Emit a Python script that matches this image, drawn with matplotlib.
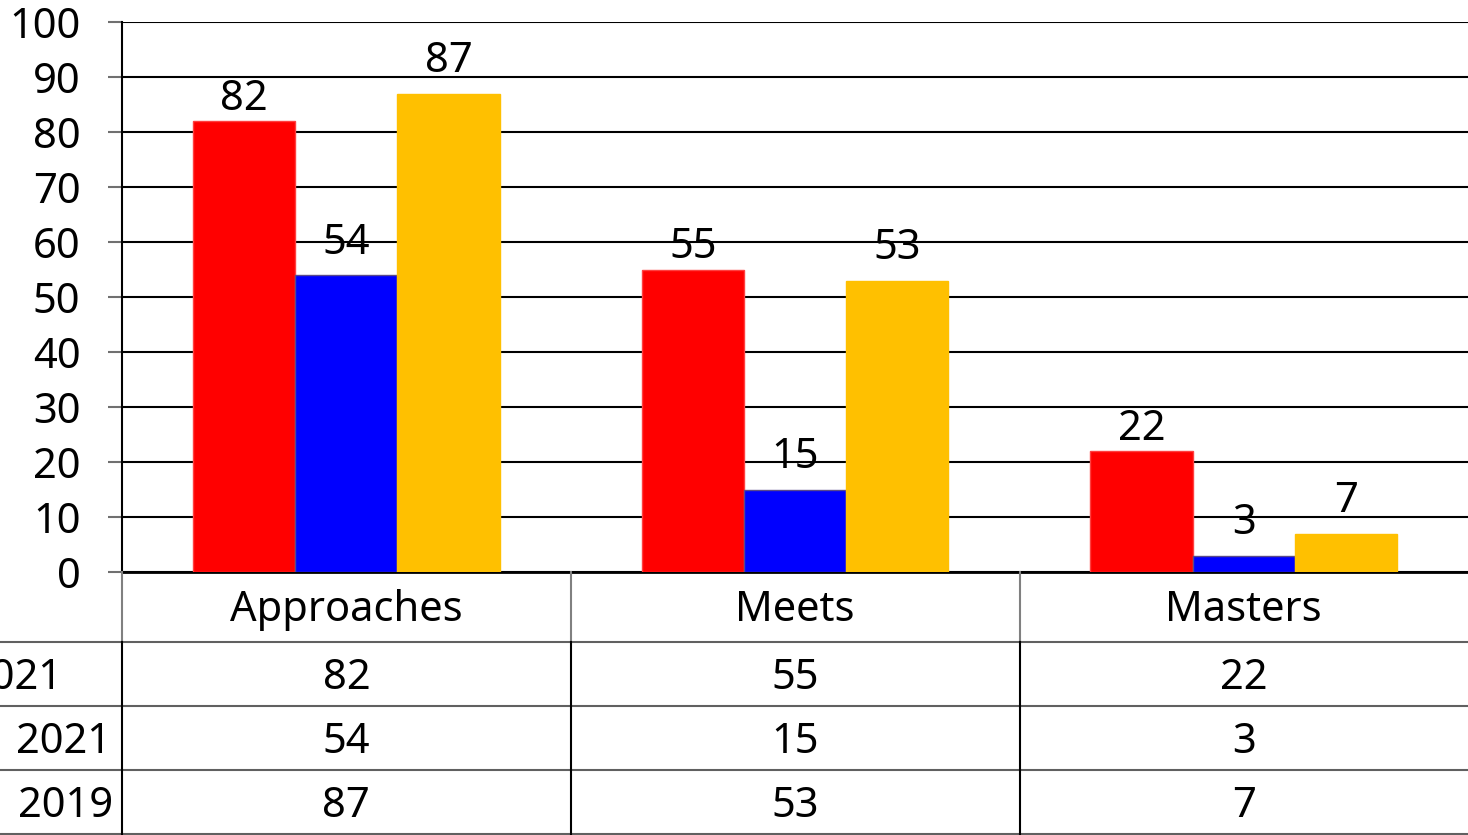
import numpy as np
import matplotlib.pyplot as plt
from matplotlib.lines import Line2D

categories = ["Approaches", "Meets", "Masters"]
row_labels = ["2021", "2021", "2019"]
vals_a = [82, 55, 22]
vals_b = [54, 15, 3]
vals_c = [87, 53, 7]

colors = ["#ff0000", "#0000ff", "#ffc000"]
edges = ["#ff4040", "#5a4a8a", "#ffc000"]

W, H = 1468, 835
FS = 30
plt.rcParams['font.family'] = ['Noto Sans', 'DejaVu Sans']
fig = plt.figure(figsize=(W / 100, H / 100), dpi=100)

def fx(px):
    return px / W

def fy(py):
    return 1 - py / H

# chart area
ax = fig.add_axes([fx(122), fy(572), fx(W) - fx(122), fy(22) - fy(572)])
x = np.arange(len(categories))
bw = 0.228
series = [vals_a, vals_b, vals_c]
for i, vals in enumerate(series):
    bars = ax.bar(x + (i - 1) * bw, vals, bw, color=colors[i],
                  edgecolor=edges[i], linewidth=1, zorder=3)
    for b, v in zip(bars, vals):
        ax.annotate(str(v), (b.get_x() + b.get_width() / 2, v),
                    xytext=(0, 1 if i == 0 else 8), textcoords='offset points',
                    ha='center', va='bottom', fontsize=FS, zorder=4)

ax.set_xlim(-0.5, 2.5)
ax.set_ylim(0, 100)
ax.set_yticks(range(0, 101, 10))
ax.set_xticks([])
ax.yaxis.grid(True, color='black', linewidth=1.5, zorder=0)
ax.tick_params(axis='y', labelsize=FS, length=10, width=1.5, color='#707070', pad=20)
for s in ['top', 'right']:
    ax.spines[s].set_visible(False)
ax.spines['left'].set_linewidth(1.5)
ax.spines['bottom'].set_linewidth(2)

# data table below the chart
row_y = [642, 706, 770, 834]
for yy in row_y:
    fig.add_artist(Line2D([0, 1], [fy(yy), fy(yy)], color='#606060', linewidth=1.5))
col_x = [122, 571, 1020]
for j, xx in enumerate(col_x):
    fig.add_artist(Line2D([fx(xx), fx(xx)], [fy(572), fy(642)], color='#808080', linewidth=1.5))
    fig.add_artist(Line2D([fx(xx), fx(xx)], [fy(642), fy(835)], color='black', linewidth=1.5))

col_w = (W - 122) / 3
for j, cat in enumerate(categories):
    cx = 122 + col_w * (j + 0.5)
    fig.text(fx(cx), fy(610), cat, ha='center', va='center', fontsize=FS)
    for r, vals in enumerate(series):
        cy = (row_y[r] + row_y[r + 1]) / 2 + 4
        fig.text(fx(cx), fy(cy), str(vals[j]), ha='center', va='center', fontsize=FS)

# first row label is cut by the left edge, as in the original
label_right = [62, 111, 113]
for r, lab in enumerate(row_labels):
    cy = (row_y[r] + row_y[r + 1]) / 2 + 4
    fig.text(fx(label_right[r]), fy(cy), lab, ha='right', va='center', fontsize=FS)

fig.savefig('out.png', dpi=100)
